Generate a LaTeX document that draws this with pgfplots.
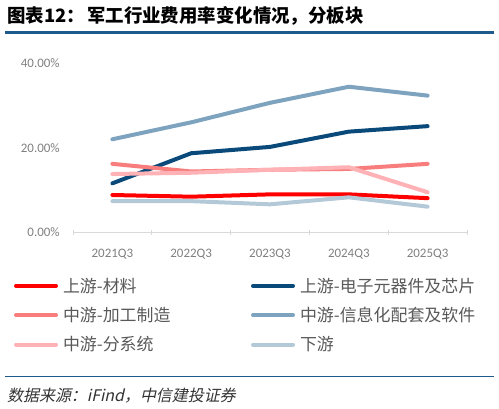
\documentclass[border=0pt]{standalone}
\usepackage{pgfplots}
\pgfplotsset{compat=1.18}
\usepackage{fontspec}
\setmainfont{Noto Sans CJK SC}
\newfontfamily\cjk{Noto Sans CJK SC}
\newfontfamily\cjkit{Noto Sans CJK SC}[FakeSlant=0.22]
\newfontfamily\calib{Carlito}
\definecolor{rulecol}{RGB}{31,90,140}
\definecolor{cRed}{RGB}{255,0,0}
\definecolor{cNavy}{RGB}{10,74,122}
\definecolor{cSalmon}{RGB}{248,126,126}
\definecolor{cInfo}{RGB}{126,163,191}
\definecolor{cPink}{RGB}{255,178,181}
\definecolor{cDown}{RGB}{180,201,216}
\definecolor{tickgrey}{RGB}{128,128,128}
\definecolor{leggrey}{RGB}{89,89,89}
\definecolor{axgrey}{RGB}{217,217,217}
\begin{document}
\begin{tikzpicture}
\path (0bp,0bp) rectangle (499bp,409bp);
\node[anchor=west, inner sep=0pt, font=\cjk\bfseries\fontsize{18.5}{18.5}\selectfont] at (7bp,393.5bp) {图表12：};
\node[anchor=west, inner sep=0pt, font=\cjk\bfseries\fontsize{18.5}{18.5}\selectfont] at (87bp,393.5bp) {军工行业费用率变化情况，分板块};
\draw[rulecol, line width=2.2bp] (5bp,376.5bp) -- (494bp,376.5bp);
\draw[rulecol, line width=1bp] (5bp,32.3bp) -- (494bp,32.3bp);
\node[anchor=west, inner sep=0pt, font=\cjkit\fontsize{16}{16}\selectfont, text=black!80] at (7bp,13bp) {数据来源：iFind，中信建投证券};
\begin{axis}[
  at={(73bp,176.5bp)}, anchor=south west,
  scale only axis, width=394bp, height=169.5bp,
  xmin=-0.5, xmax=4.5, ymin=0, ymax=40,
  axis x line=bottom, axis y line=left,
  x axis line style={-, draw=axgrey, line width=1bp},
  y axis line style={draw=none},
  xtick={0,1,2,3,4},
  xticklabels={2021Q3,2022Q3,2023Q3,2024Q3,2025Q3},
  major x tick style={draw=none},
  minor xtick={-0.5,0.5,1.5,2.5,3.5,4.5},
  minor x tick style={draw=axgrey, line width=1bp},
  minor tick length=4.5bp,
  ytick={0,20,40},
  yticklabels={0.00\%,20.00\%,40.00\%},
  ytick style={draw=none},
  tick label style={font=\calib\fontsize{13}{13}\selectfont, text=tickgrey},
  xticklabel style={inner sep=0pt, anchor=north, yshift=-14bp},
  yticklabel style={inner sep=0pt, anchor=east, xshift=-11bp},
  legend columns=2,
  legend cell align=left,
  legend image code/.code={\draw[#1, line width=4bp, line cap=round] (0bp,0bp) -- (40bp,0bp);},
  legend style={draw=none, fill=none, inner sep=0pt, outer sep=0pt,
    at={(-0.1497,-0.2684)}, anchor=north west,
    font=\cjk\fontsize{17}{17}\selectfont, text=leggrey,
    nodes={inner sep=0pt},
    row sep=13.5bp,
    /tikz/every odd column/.append style={column sep=5bp},
    /tikz/every even column/.append style={column sep=0bp}},
  every axis plot/.append style={line width=4bp, line cap=round, line join=round, mark=none},
]
\addplot[cRed] coordinates {(0,8.85) (1,8.45) (2,9.0) (3,9.0) (4,8.1)};
\addlegendentry{\makebox[188bp][l]{上游-材料}}
\addplot[cNavy] coordinates {(0,11.6) (1,18.7) (2,20.2) (3,23.8) (4,25.1)};
\addlegendentry{上游-电子元器件及芯片}
\addplot[cSalmon] coordinates {(0,16.2) (1,14.4) (2,14.8) (3,15.0) (4,16.2)};
\addlegendentry{\makebox[188bp][l]{中游-加工制造}}
\addplot[cInfo] coordinates {(0,22.0) (1,26.0) (2,30.6) (3,34.4) (4,32.3)};
\addlegendentry{中游-信息化配套及软件}
\addplot[cPink] coordinates {(0,13.8) (1,14.1) (2,14.8) (3,15.4) (4,9.5)};
\addlegendentry{\makebox[188bp][l]{中游-分系统}}
\addplot[cDown] coordinates {(0,7.4) (1,7.4) (2,6.65) (3,8.3) (4,6.1)};
\addlegendentry{下游}
\end{axis}
\end{tikzpicture}
\end{document}
